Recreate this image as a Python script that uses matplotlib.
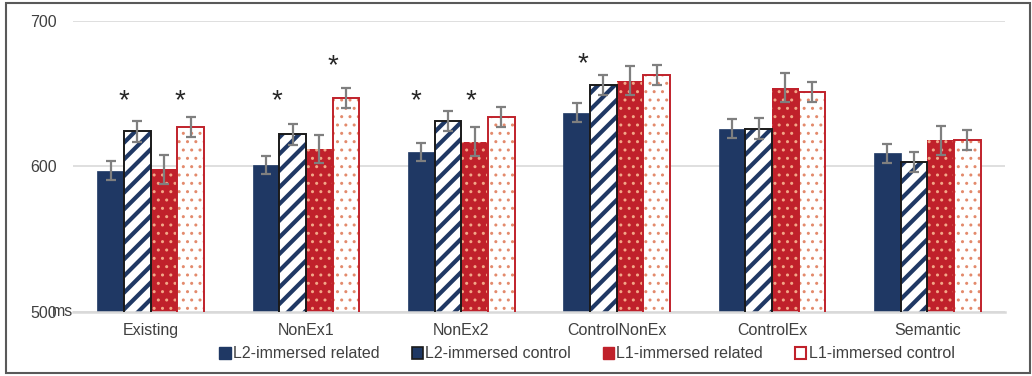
import numpy as np
import matplotlib.pyplot as plt
from matplotlib.patches import Patch, Rectangle

plt.rcParams['font.family'] = ['Liberation Sans', 'DejaVu Sans']

categories = ["Existing", "NonEx1", "NonEx2", "ControlNonEx", "ControlEx", "Semantic"]
series = ["L2-immersed related", "L2-immersed control",
          "L1-immersed related", "L1-immersed control"]

l2_rel = [597, 601, 610, 637, 626, 609]
l2_ctl = [624, 622, 631, 656, 626, 603]
l1_rel = [598, 612, 617, 659, 654, 618]
l1_ctl = [627, 647, 634, 663, 651, 618]

err_l2_rel = [6.4, 6.2, 6.4, 6.5, 6.4, 6.4]
err_l2_ctl = [7.0, 7.1, 7.0, 7.1, 7.1, 7.1]
err_l1_rel = [10.1, 9.9, 10.0, 10.1, 10.0, 10.0]
err_l1_ctl = [6.9, 6.8, 6.8, 6.9, 6.9, 7.0]

# significance markers: category index, offset from group centre, height (ms)
star_cat = [0, 0, 1, 1, 2, 2, 3]
star_dx = [-0.174, 0.185, -0.186, 0.173, -0.295, 0.059, -0.218]
star_y = [645, 645, 645, 669, 645, 645, 670]

navy = '#1f3864'
red = '#c0212b'
text_col = '#404040'

fig = plt.figure(figsize=(10.32, 3.76), dpi=100)
ax = fig.add_axes([73 / 1032, 1 - 311.7 / 376, 932 / 1032, (311.7 - 21) / 376])

x = np.arange(len(categories))
w = 0.172

ax.bar(x - 1.5 * w, l2_rel, w, color=navy, edgecolor=navy, linewidth=0.5, zorder=2)
with plt.rc_context({'hatch.linewidth': 3.0}):
    ax.bar(x - 0.5 * w, l2_ctl, w, color='white', edgecolor=navy, hatch='//',
           linewidth=0, zorder=2)
ax.bar(x - 0.5 * w, l2_ctl, w, fill=False, edgecolor='#1a1a1a', linewidth=1.4, zorder=3)

with plt.rc_context({'hatch.linewidth': 1.0}):
    ax.bar(x + 0.5 * w, l1_rel, w, color=red, edgecolor='#f2a888', hatch='..',
           linewidth=0, zorder=2)
    ax.bar(x + 1.5 * w, l1_ctl, w, color='white', edgecolor='#e38a6c', hatch='..',
           linewidth=0, zorder=2)
ax.bar(x + 1.5 * w, l1_ctl, w, fill=False, edgecolor=red, linewidth=1.4, zorder=3)

for off, vals, errs in [(-1.5, l2_rel, err_l2_rel), (-0.5, l2_ctl, err_l2_ctl),
                        (0.5, l1_rel, err_l1_rel), (1.5, l1_ctl, err_l1_ctl)]:
    ax.errorbar(x + off * w, vals, yerr=errs, fmt='none', ecolor='#7f7f7f',
                elinewidth=1.6, capsize=3.6, capthick=1.6, zorder=4)

for c, dx, yy in zip(star_cat, star_dx, star_y):
    ax.text(c + dx, yy, '*', ha='center', va='center', fontsize=20, color='#262626')

ax.set_xlim(-0.5, len(categories) - 0.5)
ax.set_ylim(500, 700)
ax.set_yticks([500, 600, 700])
ax.set_xticks(x)
ax.set_xticklabels(categories)
ax.tick_params(length=0, labelsize=11.5, labelcolor=text_col)
ax.tick_params(axis='y', pad=11.5)
ax.tick_params(axis='x', pad=8)
ax.yaxis.grid(True, color='#d9d9d9', linewidth=1.2, zorder=0)
ax.set_axisbelow(True)
for s in ['left', 'right', 'top']:
    ax.spines[s].set_visible(False)
ax.spines['bottom'].set_color('#d9d9d9')
ax.spines['bottom'].set_linewidth(1.8)

ax.text(0, 500, 'ms', transform=ax.get_yaxis_transform(), ha='right', va='center',
        fontsize=11.5, color=text_col)

handles = [
    Patch(facecolor=navy, edgecolor=navy),
    Patch(facecolor=navy, edgecolor='#1a1a1a', linewidth=1.2),
    Patch(facecolor=red, edgecolor=red),
    Patch(facecolor='white', edgecolor=red, linewidth=1.5),
]
fig.legend(handles, series, loc='center', bbox_to_anchor=(587 / 1032, 1 - 354 / 376),
           ncol=4, frameon=False, fontsize=11.5, handlelength=0.7, handleheight=0.7,
           handletextpad=0.15, columnspacing=2.0, labelcolor=text_col)

fig.add_artist(Rectangle((6 / 1032, 1 - 373 / 376), 1024 / 1032, 370 / 376,
                         transform=fig.transFigure, fill=False,
                         edgecolor='#595959', linewidth=1.5))

fig.savefig('out.png', dpi=100)
